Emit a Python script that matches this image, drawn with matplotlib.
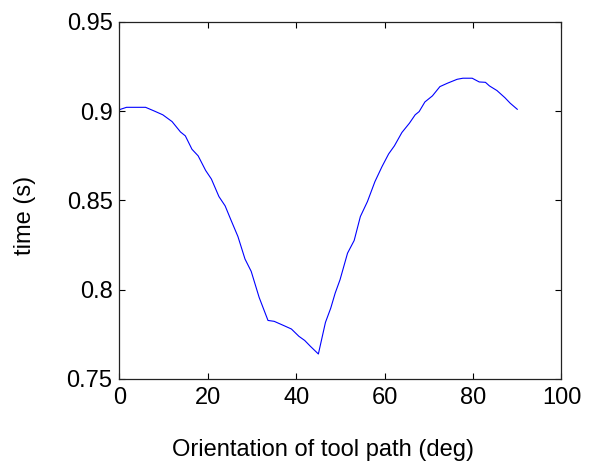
import matplotlib
matplotlib.use("Agg")
import matplotlib.pyplot as plt

plt.rcParams['font.family'] = ['Liberation Sans', 'DejaVu Sans']

angle = [0, 1.6, 5.9, 7.8, 9.8, 11.9, 13.8, 14.9, 16.4, 17.8, 19.5, 20.8, 22.5,
         23.9, 25.2, 26.8, 28.4, 29.8, 31.6, 33.6, 35.0, 37.2, 38.9, 40.6, 41.9,
         43.2, 45.0, 46.6, 47.8, 48.8, 49.9, 51.6, 53.1, 54.5, 56.1, 57.8, 59.4,
         60.9, 62.2, 63.9, 65.6, 66.9, 67.8, 69.1, 70.8, 72.5, 74.2, 76.4, 77.7,
         79.8, 81.4, 82.8, 83.7, 85.4, 87.2, 88.4, 90.0]
time_s = [0.9009, 0.9022, 0.9022, 0.9002, 0.8980, 0.8942, 0.8884, 0.8862, 0.8787,
          0.8750, 0.8668, 0.8620, 0.8522, 0.8470, 0.8392, 0.8298, 0.8172, 0.8103,
          0.7957, 0.7828, 0.7823, 0.7799, 0.7780, 0.7739, 0.7716, 0.7683, 0.7640,
          0.7817, 0.7897, 0.7981, 0.8056, 0.8205, 0.8276, 0.8410, 0.8494, 0.8606,
          0.8690, 0.8761, 0.8806, 0.8881, 0.8933, 0.8980, 0.8998, 0.9052, 0.9086,
          0.9138, 0.9157, 0.9179, 0.9185, 0.9185, 0.9164, 0.9162, 0.9142, 0.9116,
          0.9076, 0.9045, 0.9011]

xticks = [0, 20, 40, 60, 80, 100]
yticks = [0.75, 0.8, 0.85, 0.9, 0.95]
ytick_labels = ['0.75', '0.8', '0.85', '0.9', '0.95']

fig = plt.figure(figsize=(5.98, 4.61), dpi=100)
ax = fig.add_axes([0.1998, 0.1779, 0.7391, 0.7744])
ax.plot(angle, time_s, color='#0000ff', linewidth=0.8)

ax.set_xlim(0, 100)
ax.set_ylim(0.75, 0.95)
ax.set_xticks(xticks)
ax.set_xticklabels([str(v) for v in xticks])
ax.set_yticks(yticks)
ax.set_yticklabels(ytick_labels)
ax.tick_params(direction='in', top=True, right=True, length=4, width=0.8,
               labelsize=17, colors='black')
ax.tick_params(axis='x', pad=5.5)
ax.tick_params(axis='y', pad=5)
for s in ax.spines.values():
    s.set_linewidth(0.9)
    s.set_color('#222222')

fig.text(323 / 598, 1 - 456 / 461, 'Orientation of tool path (deg)',
         ha='center', va='baseline', fontsize=17)
fig.text(25 / 598, 1 - 215 / 461, 'time (s)', rotation=90,
         ha='center', va='center', fontsize=17)

fig.savefig('out.png', dpi=100)
